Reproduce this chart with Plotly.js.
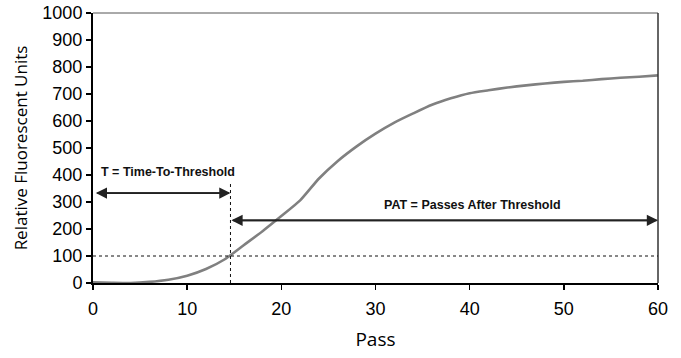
<!DOCTYPE html>
<html>
<head>
<meta charset="utf-8">
<script src="https://cdn.plot.ly/plotly-3.0.1.min.js"></script>
<style>html,body{margin:0;padding:0;background:#fff;}#chart{width:681px;height:358px;}</style>
</head>
<body>
<div id="chart"></div>
<script>
var passes = [0, 2, 4, 6, 8, 10, 12, 14, 16, 18, 20, 22, 24, 26, 28, 30, 32, 34, 36, 38, 40, 42, 44, 46, 48, 50, 52, 54, 56, 58, 60];
var rfu = [3, 1, 0, 4, 12, 27, 52, 88, 140, 192, 248, 306, 387, 452, 506, 553, 594, 628, 660, 684, 703, 714, 724, 732, 739, 745, 749, 755, 760, 764, 769];
var xTicks = [0, 10, 20, 30, 40, 50, 60];
var yTicks = [0, 100, 200, 300, 400, 500, 600, 700, 800, 900, 1000];
var thresholdValue = 100;
var thresholdPass = 14.6;
var tArrowY = 333;
var patArrowY = 232;
var tLineTop = 375;
var tLabel = "T = Time-To-Threshold";
var patLabel = "PAT = Passes After Threshold";

var arrowColor = "#222";
var labelFont = {family: "Liberation Sans, Arial, sans-serif", size: 12.5, color: "#111", weight: "bold"};

var data = [{
  x: passes, y: rfu, type: "scatter", mode: "lines",
  line: {color: "#808080", width: 2.6, shape: "spline", smoothing: 0.6},
  hoverinfo: "skip"
}];

var layout = {
  width: 681, height: 358,
  margin: {l: 93, r: 23, t: 13, b: 75},
  paper_bgcolor: "#fff", plot_bgcolor: "#fff",
  showlegend: false,
  font: {family: "Liberation Sans, Arial, sans-serif", color: "#000"},
  xaxis: {
    range: [0, 60], tickvals: xTicks, ticktext: xTicks.map(String),
    showgrid: false, zeroline: false, showline: true, linecolor: "#000", linewidth: 2,
    ticks: "outside", ticklen: 5, tickwidth: 1.5, tickcolor: "#000",
    ticklabelstandoff: 3,
    tickfont: {size: 18, family: "Liberation Sans, Arial, sans-serif"},
    title: {text: "Pass", font: {family: "Open Sans, sans-serif", size: 19}, standoff: 15}
  },
  yaxis: {
    range: [0, 1000], tickvals: yTicks, ticktext: yTicks.map(String),
    showgrid: false, zeroline: false, showline: true, linecolor: "#000", linewidth: 2,
    ticks: "outside", ticklen: 5, tickwidth: 1.5, tickcolor: "#000",
    tickfont: {size: 18, family: "Liberation Sans, Arial, sans-serif"},
    title: {text: "Relative Fluorescent Units", font: {family: "Open Sans, sans-serif", size: 17}, standoff: 10}
  },
  shapes: [
    {type: "line", xref: "paper", yref: "paper", x0: 0, x1: 1, y0: 1, y1: 1, line: {color: "#555", width: 1}},
    {type: "line", xref: "paper", yref: "paper", x0: 1, x1: 1, y0: 0, y1: 1, line: {color: "#333", width: 1.5}},
    {type: "line", xref: "x", yref: "y", x0: 0, x1: 60, y0: thresholdValue, y1: thresholdValue, line: {color: "#111", width: 1, dash: "dot"}},
    {type: "line", xref: "x", yref: "y", x0: thresholdPass, x1: thresholdPass, y0: 0, y1: tLineTop, line: {color: "#111", width: 1, dash: "dot"}}
  ],
  annotations: [
    {x: thresholdPass, y: tArrowY, ax: 0.3, ay: tArrowY, xref: "x", yref: "y", axref: "x", ayref: "y", showarrow: true, arrowhead: 2, arrowsize: 1.4, arrowwidth: 1.6, arrowcolor: arrowColor, text: ""},
    {x: 0.3, y: tArrowY, ax: thresholdPass, ay: tArrowY, xref: "x", yref: "y", axref: "x", ayref: "y", showarrow: true, arrowhead: 2, arrowsize: 1.4, arrowwidth: 1.6, arrowcolor: arrowColor, text: ""},
    {x: thresholdPass + 0.1, y: patArrowY, ax: 60, ay: patArrowY, xref: "x", yref: "y", axref: "x", ayref: "y", showarrow: true, arrowhead: 2, arrowsize: 1.4, arrowwidth: 1.6, arrowcolor: arrowColor, text: ""},
    {x: 60, y: patArrowY, ax: thresholdPass + 0.1, ay: patArrowY, xref: "x", yref: "y", axref: "x", ayref: "y", showarrow: true, arrowhead: 2, arrowsize: 1.4, arrowwidth: 1.6, arrowcolor: arrowColor, text: ""},
    {x: 0.6, y: 410, xref: "x", yref: "y", xanchor: "left", yanchor: "middle", showarrow: false, text: tLabel, font: labelFont},
    {x: 30.7, y: 290, xref: "x", yref: "y", xanchor: "left", yanchor: "middle", showarrow: false, text: patLabel, font: labelFont}
  ]
};

Plotly.newPlot("chart", data, layout, {staticPlot: true, displayModeBar: false});
</script>
</body>
</html>
